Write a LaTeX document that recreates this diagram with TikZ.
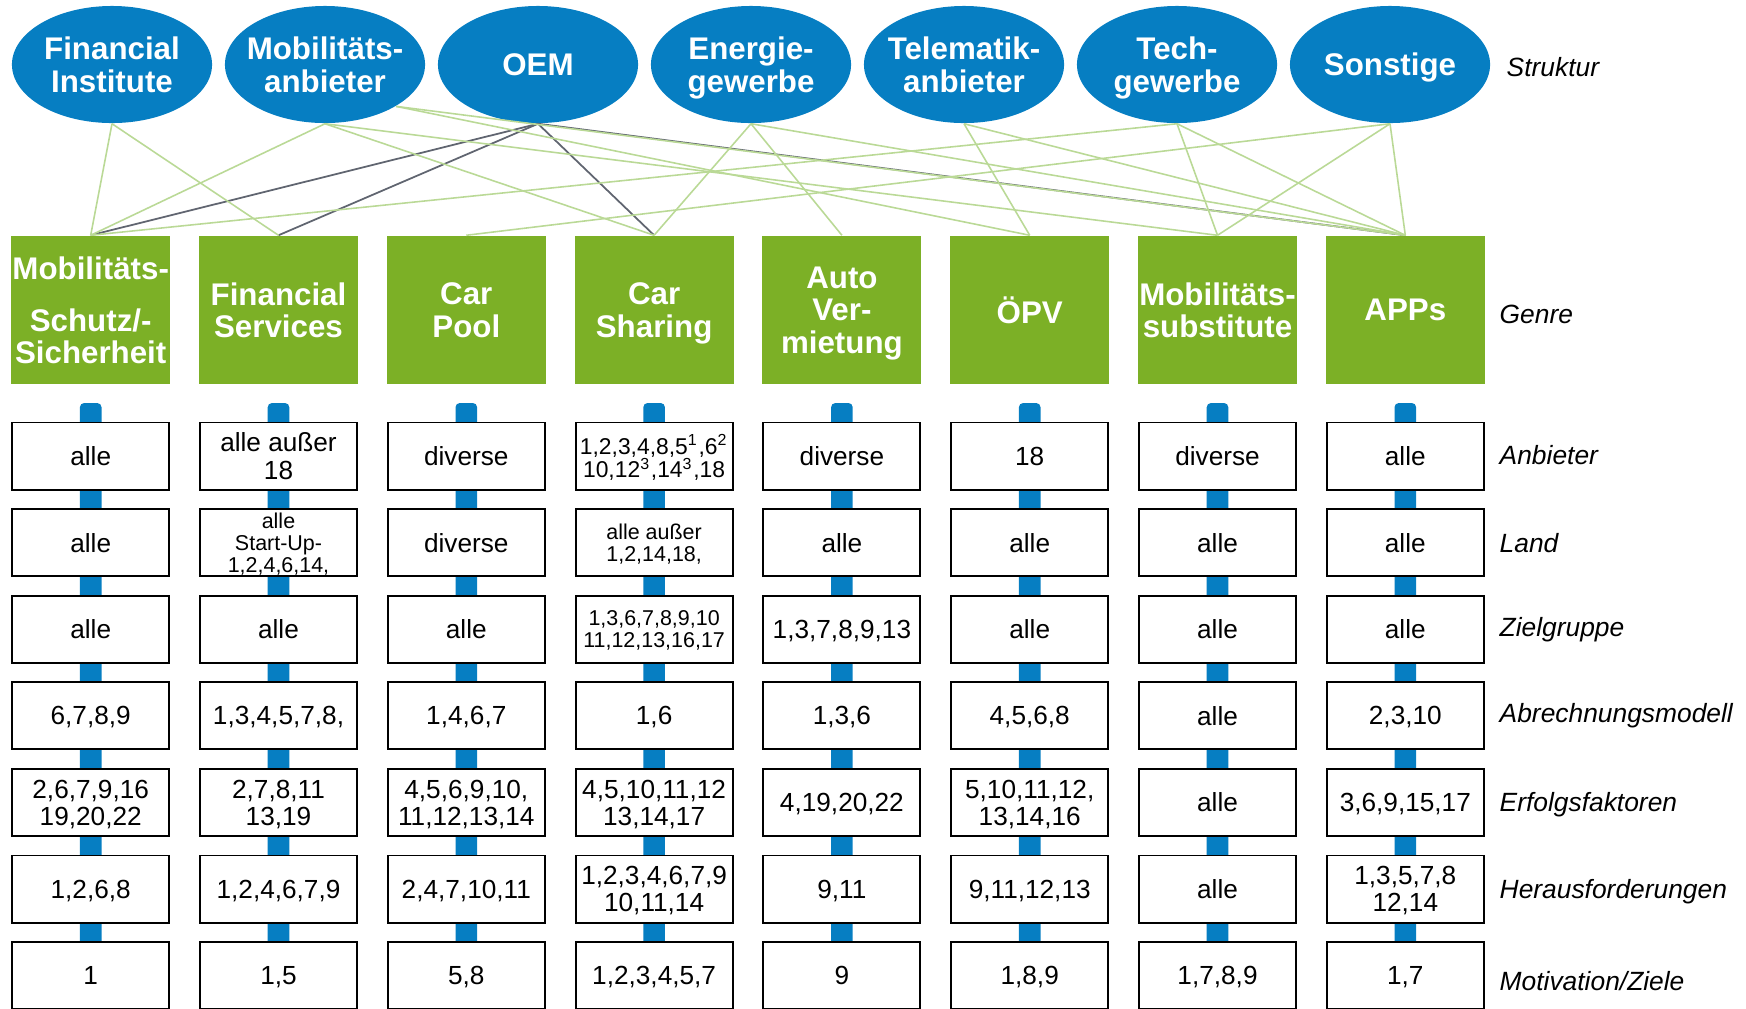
\documentclass[tikz,border=0pt]{standalone}
\usepackage{fontspec}
\setmainfont{Liberation Sans}
\usepackage{tikz}
\usetikzlibrary{shapes}
\usetikzlibrary{arrows}
\definecolor{sblue}{RGB}{6,126,194}
\definecolor{ggreen}{RGB}{124,176,38}
\definecolor{lgreen}{RGB}{186,217,150}
\definecolor{dgray}{RGB}{96,101,112}
\tikzset{
	struct node/.style={ellipse,fill=sblue,text=white,minimum width=2cm,minimum height=1.17cm,
		inner xsep=-0.3cm,inner ysep=0pt,text depth=0pt,align=center,
		font=\fontsize{8.9}{9.2}\selectfont\bfseries},
	genre node/.style={rectangle,fill=ggreen,text=white,minimum width=1.59cm,minimum height=1.48cm,
		inner sep=0pt,text depth=0pt,align=center,font=\fontsize{8.9}{9.2}\selectfont\bfseries},
	cell node/.style={rectangle,draw=black,line width=0.55pt,fill=white,minimum width=1.57cm,
		minimum height=0.67cm,inner sep=0pt,text depth=0pt,align=center,font=\fontsize{7.45}{7.7}\selectfont},
	mid cell/.style={cell node,font=\fontsize{6.5}{6.8}\selectfont},
	small cell/.style={cell node,font=\fontsize{6.1}{6.2}\selectfont},
	row name/.style={anchor=west,inner sep=0pt,font=\fontsize{7.5}{8}\selectfont\itshape},
	link/.style={lgreen,line width=0.45pt},
	oem link/.style={dgray,line width=0.5pt}
}

\begin{document}
\begin{tikzpicture}[x=0.01cm,y=-0.01cm]
	\useasboundingbox (0,0) rectangle (1746,1008);
	% blue posts behind the columns
	\foreach \x in {90.7,278.5,466.3,654.1,841.9,1029.7,1217.5,1405.3}
		\fill[sblue,rounded corners=1.2pt] (\x-10.8,1030) rectangle (\x+10.8,403);
	% Struktur
	\node [struct node] (s1) at (112,64.5) {Financial\\Institute};
	\node [struct node] (s2) at (325,64.5) {Mobilitäts-\\anbieter};
	\node [struct node] (s3) at (538,64.5) {OEM};
	\node [struct node] (s4) at (751,64.5) {Energie-\\gewerbe};
	\node [struct node] (s5) at (964,64.5) {Telematik-\\anbieter};
	\node [struct node] (s6) at (1177,64.5) {Tech-\\gewerbe};
	\node [struct node] (s7) at (1390,64.5) {Sonstige};
	% Genre
	\node [genre node] (g1) at (90.7,310) {Mobilitäts-\\[5.5pt]Schutz/-\\Sicherheit};
	\node [genre node] (g2) at (278.5,310) {Financial\\Services};
	\node [genre node] (g3) at (466.3,310) {Car\\Pool};
	\node [genre node] (g4) at (654.1,310) {Car\\Sharing};
	\node [genre node] (g5) at (841.9,310) {Auto\\Ver-\\mietung};
	\node [genre node] (g6) at (1029.7,310) {ÖPV};
	\node [genre node] (g7) at (1217.5,310) {Mobilitäts-\\substitute};
	\node [genre node] (g8) at (1405.3,310) {APPs};
	% column 1
	\node [cell node] (anb1) at (90.7,456) {alle};
	\node [cell node] (land1) at (90.7,542.6) {alle};
	\node [cell node] (ziel1) at (90.7,629.2) {alle};
	\node [cell node] (abr1) at (90.7,715.8) {6,7,8,9};
	\node [cell node] (erf1) at (90.7,802.4) {2,6,7,9,16\\19,20,22};
	\node [cell node] (her1) at (90.7,889) {1,2,6,8};
	\node [cell node] (mot1) at (90.7,975.6) {1};
	% column 2
	\node [cell node] (anb2) at (278.5,456) {alle außer\\18};
	\node [small cell] (land2) at (278.5,542.6) {alle\\Start-Up-\\1,2,4,6,14,};
	\node [cell node] (ziel2) at (278.5,629.2) {alle};
	\node [cell node] (abr2) at (278.5,715.8) {1,3,4,5,7,8,};
	\node [cell node] (erf2) at (278.5,802.4) {2,7,8,11\\13,19};
	\node [cell node] (her2) at (278.5,889) {1,2,4,6,7,9};
	\node [cell node] (mot2) at (278.5,975.6) {1,5};
	% column 3
	\node [cell node] (anb3) at (466.3,456) {diverse};
	\node [cell node] (land3) at (466.3,542.6) {diverse};
	\node [cell node] (ziel3) at (466.3,629.2) {alle};
	\node [cell node] (abr3) at (466.3,715.8) {1,4,6,7};
	\node [cell node] (erf3) at (466.3,802.4) {4,5,6,9,10,\\11,12,13,14};
	\node [cell node] (her3) at (466.3,889) {2,4,7,10,11};
	\node [cell node] (mot3) at (466.3,975.6) {5,8};
	% column 4
	\node [mid cell] (anb4) at (654.1,456) {1,2,3,4,8,5\textsuperscript{1},6\textsuperscript{2}\\10,12\textsuperscript{3},14\textsuperscript{3},18};
	\node [small cell] (land4) at (654.1,542.6) {alle außer\\1,2,14,18,};
	\node [small cell] (ziel4) at (654.1,629.2) {1,3,6,7,8,9,10\\11,12,13,16,17};
	\node [cell node] (abr4) at (654.1,715.8) {1,6};
	\node [cell node] (erf4) at (654.1,802.4) {4,5,10,11,12\\13,14,17};
	\node [cell node] (her4) at (654.1,889) {1,2,3,4,6,7,9\\10,11,14};
	\node [cell node] (mot4) at (654.1,975.6) {1,2,3,4,5,7};
	% column 5
	\node [cell node] (anb5) at (841.9,456) {diverse};
	\node [cell node] (land5) at (841.9,542.6) {alle};
	\node [cell node] (ziel5) at (841.9,629.2) {1,3,7,8,9,13};
	\node [cell node] (abr5) at (841.9,715.8) {1,3,6};
	\node [cell node] (erf5) at (841.9,802.4) {4,19,20,22};
	\node [cell node] (her5) at (841.9,889) {9,11};
	\node [cell node] (mot5) at (841.9,975.6) {9};
	% column 6
	\node [cell node] (anb6) at (1029.7,456) {18};
	\node [cell node] (land6) at (1029.7,542.6) {alle};
	\node [cell node] (ziel6) at (1029.7,629.2) {alle};
	\node [cell node] (abr6) at (1029.7,715.8) {4,5,6,8};
	\node [cell node] (erf6) at (1029.7,802.4) {5,10,11,12,\\13,14,16};
	\node [cell node] (her6) at (1029.7,889) {9,11,12,13};
	\node [cell node] (mot6) at (1029.7,975.6) {1,8,9};
	% column 7
	\node [cell node] (anb7) at (1217.5,456) {diverse};
	\node [cell node] (land7) at (1217.5,542.6) {alle};
	\node [cell node] (ziel7) at (1217.5,629.2) {alle};
	\node [cell node] (abr7) at (1217.5,715.8) {alle};
	\node [cell node] (erf7) at (1217.5,802.4) {alle};
	\node [cell node] (her7) at (1217.5,889) {alle};
	\node [cell node] (mot7) at (1217.5,975.6) {1,7,8,9};
	% column 8
	\node [cell node] (anb8) at (1405.3,456) {alle};
	\node [cell node] (land8) at (1405.3,542.6) {alle};
	\node [cell node] (ziel8) at (1405.3,629.2) {alle};
	\node [cell node] (abr8) at (1405.3,715.8) {2,3,10};
	\node [cell node] (erf8) at (1405.3,802.4) {3,6,9,15,17};
	\node [cell node] (her8) at (1405.3,889) {1,3,5,7,8\\12,14};
	\node [cell node] (mot8) at (1405.3,975.6) {1,7};
	% row names
	\node [row name] (struktur) at (1506,67) {Struktur};
	\node [row name] (genre) at (1499,314) {Genre};
	\node [row name] (anbieter) at (1499,455) {Anbieter};
	\node [row name] (land) at (1499,543) {Land};
	\node [row name] (zielgruppe) at (1499,630) {Zielgruppe};
	\node [row name] (abrechnung) at (1499,716) {Abrechnungsmodell};
	\node [row name] (erfolg) at (1499,805) {Erfolgsfaktoren};
	\node [row name] (heraus) at (1499,892) {Herausforderungen};
	\node [row name] (motivation) at (1499,981) {Motivation/Ziele};
	% links
	\draw [oem link] (s3.south) -- (g1.north);
	\draw [oem link] (s3.south) -- (g2.north);
	\draw [oem link] (s3.south) -- (g4.north);
	\draw [oem link] (s3.south) -- (g8.north);
	\draw [link] (s1.south) -- (g1.north);
	\draw [link] (s1.south) -- (g2.north);
	\draw [link] (s2.south) -- (g1.north);
	\draw [link] (s2.south) -- (g4.north);
	\draw [link] (s2.south) -- (g7.north);
	\draw [link] (s2.south east) -- (g6.north);
	\draw [link] (s2.south east) -- (g8.north);
	\draw [link] (s4.south) -- (g4.north);
	\draw [link] (s4.south) -- (g5.north);
	\draw [link] (s4.south) -- (g8.north);
	\draw [link] (s5.south) -- (g6.north);
	\draw [link] (s5.south) -- (g8.north);
	\draw [link] (s6.south) -- (g1.north);
	\draw [link] (s6.south) -- (g7.north);
	\draw [link] (s6.south) -- (g8.north);
	\draw [link] (s7.south) -- (g3.north);
	\draw [link] (s7.south) -- (g7.north);
	\draw [link] (s7.south) -- (g8.north);
\end{tikzpicture}
\end{document}
